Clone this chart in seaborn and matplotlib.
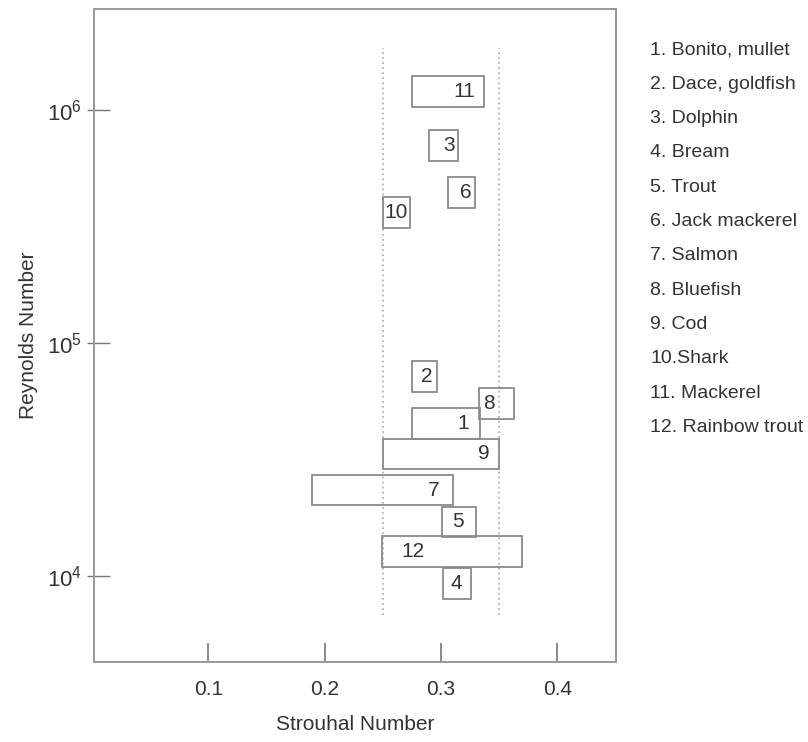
import numpy as np
import pandas as pd
import matplotlib
matplotlib.use("Agg")
import matplotlib.pyplot as plt
import seaborn as sns

# ---- data ----
fish_ids = [1, 2, 3, 4, 5, 6, 7, 8, 9, 10, 11, 12]
fish_names = ["1. Bonito, mullet", "2. Dace, goldfish", "3. Dolphin", "4. Bream",
              "5. Trout", "6. Jack mackerel", "7. Salmon", "8. Bluefish", "9. Cod",
              "10.Shark", "11. Mackerel", "12. Rainbow trout"]
st_low = [0.275, 0.275, 0.290, 0.302, 0.301, 0.306, 0.189, 0.333, 0.250, 0.250, 0.275, 0.249]
st_high = [0.334, 0.297, 0.315, 0.326, 0.330, 0.329, 0.310, 0.363, 0.350, 0.273, 0.337, 0.370]
re_low = [3.88e4, 6.18e4, 6.04e5, 8.0e3, 1.47e4, 3.78e5, 2.01e4, 4.73e4, 2.88e4, 3.10e5, 1.03e6, 1.09e4]
re_high = [5.25e4, 8.37e4, 8.20e5, 1.08e4, 1.98e4, 5.14e5, 2.72e4, 6.43e4, 3.88e4, 4.21e5, 1.40e6, 1.48e4]
label_st = [0.319, 0.288, 0.307, 0.313, 0.315, 0.321, 0.294, 0.341, 0.337, 0.261, 0.320, 0.276]
optimal_band = [0.25, 0.35]
band_re = [6.8e3, 1.85e6]
x_ticks = [0.1, 0.2, 0.3, 0.4]
y_ticks = [1e4, 1e5, 1e6]
y_ticklabels = ["$10^{4}$", "$10^{5}$", "$10^{6}$"]

df = pd.DataFrame({"id": fish_ids, "name": fish_names, "st_low": st_low, "st_high": st_high,
                   "re_low": re_low, "re_high": re_high, "label_st": label_st})

sns.set_theme(style="white")
plt.rcParams["font.family"] = ["Liberation Sans", "DejaVu Sans"]
plt.rcParams["mathtext.fontset"] = "custom"
plt.rcParams["mathtext.rm"] = "Liberation Sans"
plt.rcParams["mathtext.it"] = "Liberation Sans:italic"
plt.rcParams["mathtext.bf"] = "Liberation Sans:bold"

TEXT = "#333333"
GRAY = "#999999"
EDGE = "#8a8a8a"

fig = plt.figure(figsize=(8.08, 7.42), dpi=100)
ax = fig.add_axes([0.1167, 0.1082, 0.7624 - 0.1167, 0.9875 - 0.1082])
ax.set_yscale("log")

# dotted band lines
for xv in optimal_band:
    ax.plot([xv, xv], band_re, color="#b4b4b4", linestyle=(0, (1.0, 1.8)),
            linewidth=1.3, zorder=1)

# boxes
ax.bar(df["st_low"], df["re_high"] - df["re_low"], width=df["st_high"] - df["st_low"],
       bottom=df["re_low"], align="edge", fill=False, edgecolor=EDGE, linewidth=1.3,
       zorder=2)

for _, r in df.iterrows():
    yc = np.sqrt(r["re_low"] * r["re_high"])
    ax.text(r["label_st"], yc, str(r["id"]), ha="center", va="center",
            fontsize=15, color=TEXT)

ax.set_xlim(0.002, 0.4505)
ax.set_ylim(4.29e3, 2.70e6)

ax.set_xticks(x_ticks)
ax.set_xticklabels([f"{t:.1f}" for t in x_ticks])
ax.set_yticks(y_ticks)
ax.set_yticklabels(y_ticklabels)
ax.yaxis.set_minor_locator(matplotlib.ticker.FixedLocator(y_ticks))
ax.yaxis.set_minor_formatter(matplotlib.ticker.NullFormatter())
ax.yaxis.remove_overlapping_locs = False

ax.tick_params(axis="x", which="major", direction="in", length=13.5, width=1.2,
               color="#777777", labelsize=15, labelcolor=TEXT, pad=13, bottom=True)
ax.tick_params(axis="y", which="major", direction="in", length=11.5, width=1.0,
               color="#777777", labelsize=16, labelcolor=TEXT, pad=9, left=True)
ax.tick_params(axis="y", which="minor", direction="out", length=5, width=1.0,
               color="#777777", left=True)
ax.tick_params(axis="x", which="minor", bottom=False)

for s in ax.spines.values():
    s.set_color(GRAY)
    s.set_linewidth(1.4)

ax.set_xlabel("Strouhal Number", fontsize=15, color=TEXT)
ax.set_ylabel("Reynolds Number", fontsize=15, color=TEXT)
ax.xaxis.set_label_coords(0.5, -0.082)
ax.yaxis.set_label_coords(-0.108, 0.5)

# legend list
for i, name in enumerate(fish_names):
    fig.text(650 / 808, 1 - (50 + i * 34.3) / 742, name, ha="left", va="center",
             fontsize=14, color=TEXT)

fig.savefig("out.png", dpi=100)
